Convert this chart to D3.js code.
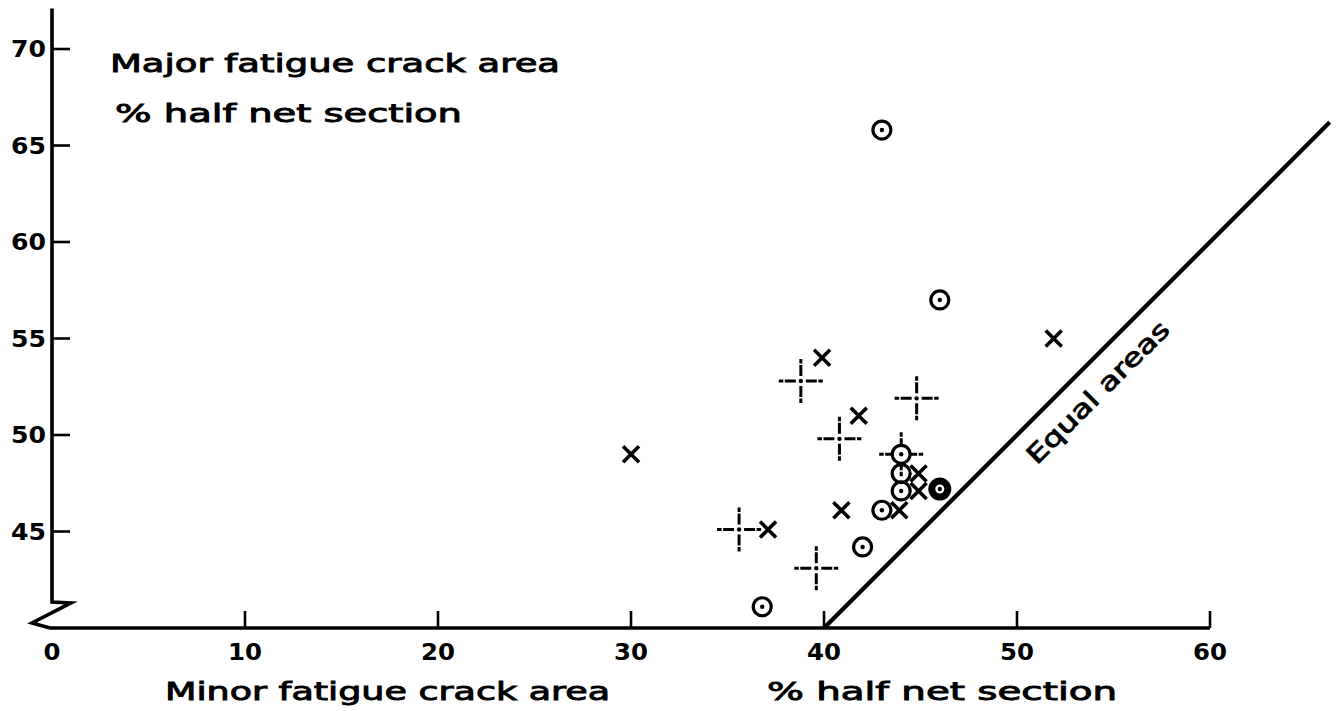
<!DOCTYPE html>
<html>
<head>
<meta charset="utf-8">
<script src="https://cdn.jsdelivr.net/npm/d3@7"></script>
<style>
  html, body { margin: 0; padding: 0; background: #fff; }
  svg { display: block; }
  text { font-family: "DejaVu Sans", sans-serif; fill: #000; }
</style>
</head>
<body>
<svg id="chart" width="1339" height="711"></svg>
<script>
// ---- data (x = minor crack area %, y = major crack area %) ----
const xTicks = [10, 20, 30, 40, 50, 60];
const xTickLabels = ["0", "10", "20", "30", "40", "50", "60"];
const xLabelValues = [0, 10, 20, 30, 40, 50, 60];
const yTicks = [45, 50, 55, 60, 65, 70];
const yTickLabels = ["45", "50", "55", "60", "65", "70"];

const dotCircleX = [43, 46, 44, 44, 43, 42, 36.8];
const dotCircleY = [65.8, 57, 49, 47.1, 46.1, 44.2, 41.1];
const plainCircleX = [44];
const plainCircleY = [48];
const boldCircleX = [46];
const boldCircleY = [47.2];
const crossX = [30, 37.1, 39.9, 41.8, 40.9, 43.9, 44.9, 44.9, 51.9];
const crossY = [49, 45.1, 54, 51, 46.1, 46.1, 48, 47.1, 55];
const plusX = [38.8, 40.8, 44.8, 35.6, 39.6, 44];
const plusY = [52.8, 49.8, 51.9, 45.1, 43.1, 49];
const equalLine = [40, 66.2];

const svg = d3.select("#chart");
const x = d3.scaleLinear().domain([0, 60]).range([52, 1210]);
const y = d3.scaleLinear().domain([40, 70]).range([628, 49]);

const AX = 3.6;

// x axis
const gx = svg.append("g").attr("transform", `translate(0,${y(40)})`);
gx.append("line").attr("x1", x(0) - 2).attr("x2", x(60)).attr("y1", 0).attr("y2", 0)
  .attr("stroke", "#000").attr("stroke-width", AX);
gx.selectAll("line.tick").data(xTicks).join("line").attr("class", "tick")
  .attr("x1", d => x(d)).attr("x2", d => x(d)).attr("y1", 0).attr("y2", -17)
  .attr("stroke", "#000").attr("stroke-width", 2.6);
gx.selectAll("text").data(xLabelValues).join("text")
  .attr("x", d => x(d)).attr("y", 32)
  .attr("text-anchor", "middle").attr("font-size", 23).attr("font-weight", "bold")
  .attr("textLength", (d, i) => xTickLabels[i].length * 17)
  .attr("lengthAdjust", "spacingAndGlyphs")
  .text((d, i) => xTickLabels[i]);

// y axis (with break)
const gy = svg.append("g");
gy.append("path")
  .attr("d", `M${x(0)},${y(72.1)} L${x(0)},${y(41.35)} L${x(0) + 19},${y(41.3)} L${x(0) - 20},${y(40.26)} L${x(0) - 2},${y(40)}`)
  .attr("fill", "none").attr("stroke", "#000").attr("stroke-width", AX).attr("stroke-linejoin", "miter");
gy.selectAll("line.tick").data(yTicks).join("line").attr("class", "tick")
  .attr("x1", x(0)).attr("x2", x(0) + 18).attr("y1", d => y(d)).attr("y2", d => y(d))
  .attr("stroke", "#000").attr("stroke-width", 2.6);
gy.selectAll("text").data(yTicks).join("text")
  .attr("x", x(0) - 6).attr("y", d => y(d)).attr("dy", "0.36em")
  .attr("text-anchor", "end").attr("font-size", 23).attr("font-weight", "bold")
  .attr("textLength", 35).attr("lengthAdjust", "spacingAndGlyphs")
  .text((d, i) => yTickLabels[i]);

// equal areas line
svg.append("line")
  .attr("x1", x(equalLine[0])).attr("y1", y(equalLine[0]))
  .attr("x2", x(equalLine[1])).attr("y2", y(equalLine[1]))
  .attr("stroke", "#000").attr("stroke-width", 4.2);

// labels
function label(txt, px, py, len, size) {
  svg.append("text").attr("x", px).attr("y", py).attr("font-size", size)
    .attr("stroke", "#000").attr("stroke-width", 0.9)
    .attr("textLength", len).attr("lengthAdjust", "spacingAndGlyphs").text(txt);
}
label("Major fatigue crack area", 110, 72, 450, 25);
label("% half net section", 115, 122, 347, 25);
label("Minor fatigue crack area", 165, 700, 445, 25);
label("% half net section", 767, 700, 350, 25);

svg.append("text")
  .attr("transform", `translate(${x(53.2) + 19},${y(53.2) + 19}) rotate(-45)`)
  .attr("text-anchor", "middle").attr("dy", "0.35em").attr("font-size", 25)
  .attr("stroke", "#000").attr("stroke-width", 0.9)
  .attr("textLength", 190).attr("lengthAdjust", "spacingAndGlyphs")
  .text("Equal areas");

// markers
const zip = (a, b) => a.map((v, i) => [v, b[i]]);

// crosshairs (broken plus with centre dot)
const plus = svg.append("g");
zip(plusX, plusY).forEach(([a, b]) => {
  const cx = x(a), cy = y(b);
  const arms = [[1, 0], [-1, 0], [0, 1], [0, -1]];
  arms.forEach(([dx, dy]) => {
    plus.append("line")
      .attr("x1", cx + dx * 5).attr("y1", cy + dy * 5)
      .attr("x2", cx + dx * 22).attr("y2", cy + dy * 22)
      .attr("stroke", "#000").attr("stroke-width", 3)
      .attr("stroke-dasharray", "11,1.5,5");
  });
  plus.append("circle").attr("cx", cx).attr("cy", cy).attr("r", 2.2).attr("fill", "#000");
});

// circles with dot
const circ = svg.append("g");
zip(dotCircleX, dotCircleY).forEach(([a, b]) => {
  circ.append("circle").attr("cx", x(a)).attr("cy", y(b)).attr("r", 9)
    .attr("fill", "#fff").attr("stroke", "#000").attr("stroke-width", 3.2);
  circ.append("circle").attr("cx", x(a)).attr("cy", y(b)).attr("r", 2.2).attr("fill", "#000");
});
zip(plainCircleX, plainCircleY).forEach(([a, b]) => {
  circ.append("circle").attr("cx", x(a)).attr("cy", y(b)).attr("r", 9)
    .attr("fill", "none").attr("stroke", "#000").attr("stroke-width", 3.2);
});
zip(boldCircleX, boldCircleY).forEach(([a, b]) => {
  circ.append("circle").attr("cx", x(a)).attr("cy", y(b)).attr("r", 8)
    .attr("fill", "#fff").attr("stroke", "#000").attr("stroke-width", 7);
  circ.append("circle").attr("cx", x(a)).attr("cy", y(b)).attr("r", 2.2).attr("fill", "#000");
});

// crosses
const cr = svg.append("g");
zip(crossX, crossY).forEach(([a, b]) => {
  const cx = x(a), cy = y(b), s = 8;
  cr.append("path")
    .attr("d", `M${cx - s},${cy - s}L${cx + s},${cy + s}M${cx - s},${cy + s}L${cx + s},${cy - s}`)
    .attr("stroke", "#000").attr("stroke-width", 3.6).attr("fill", "none");
});
</script>
</body>
</html>
